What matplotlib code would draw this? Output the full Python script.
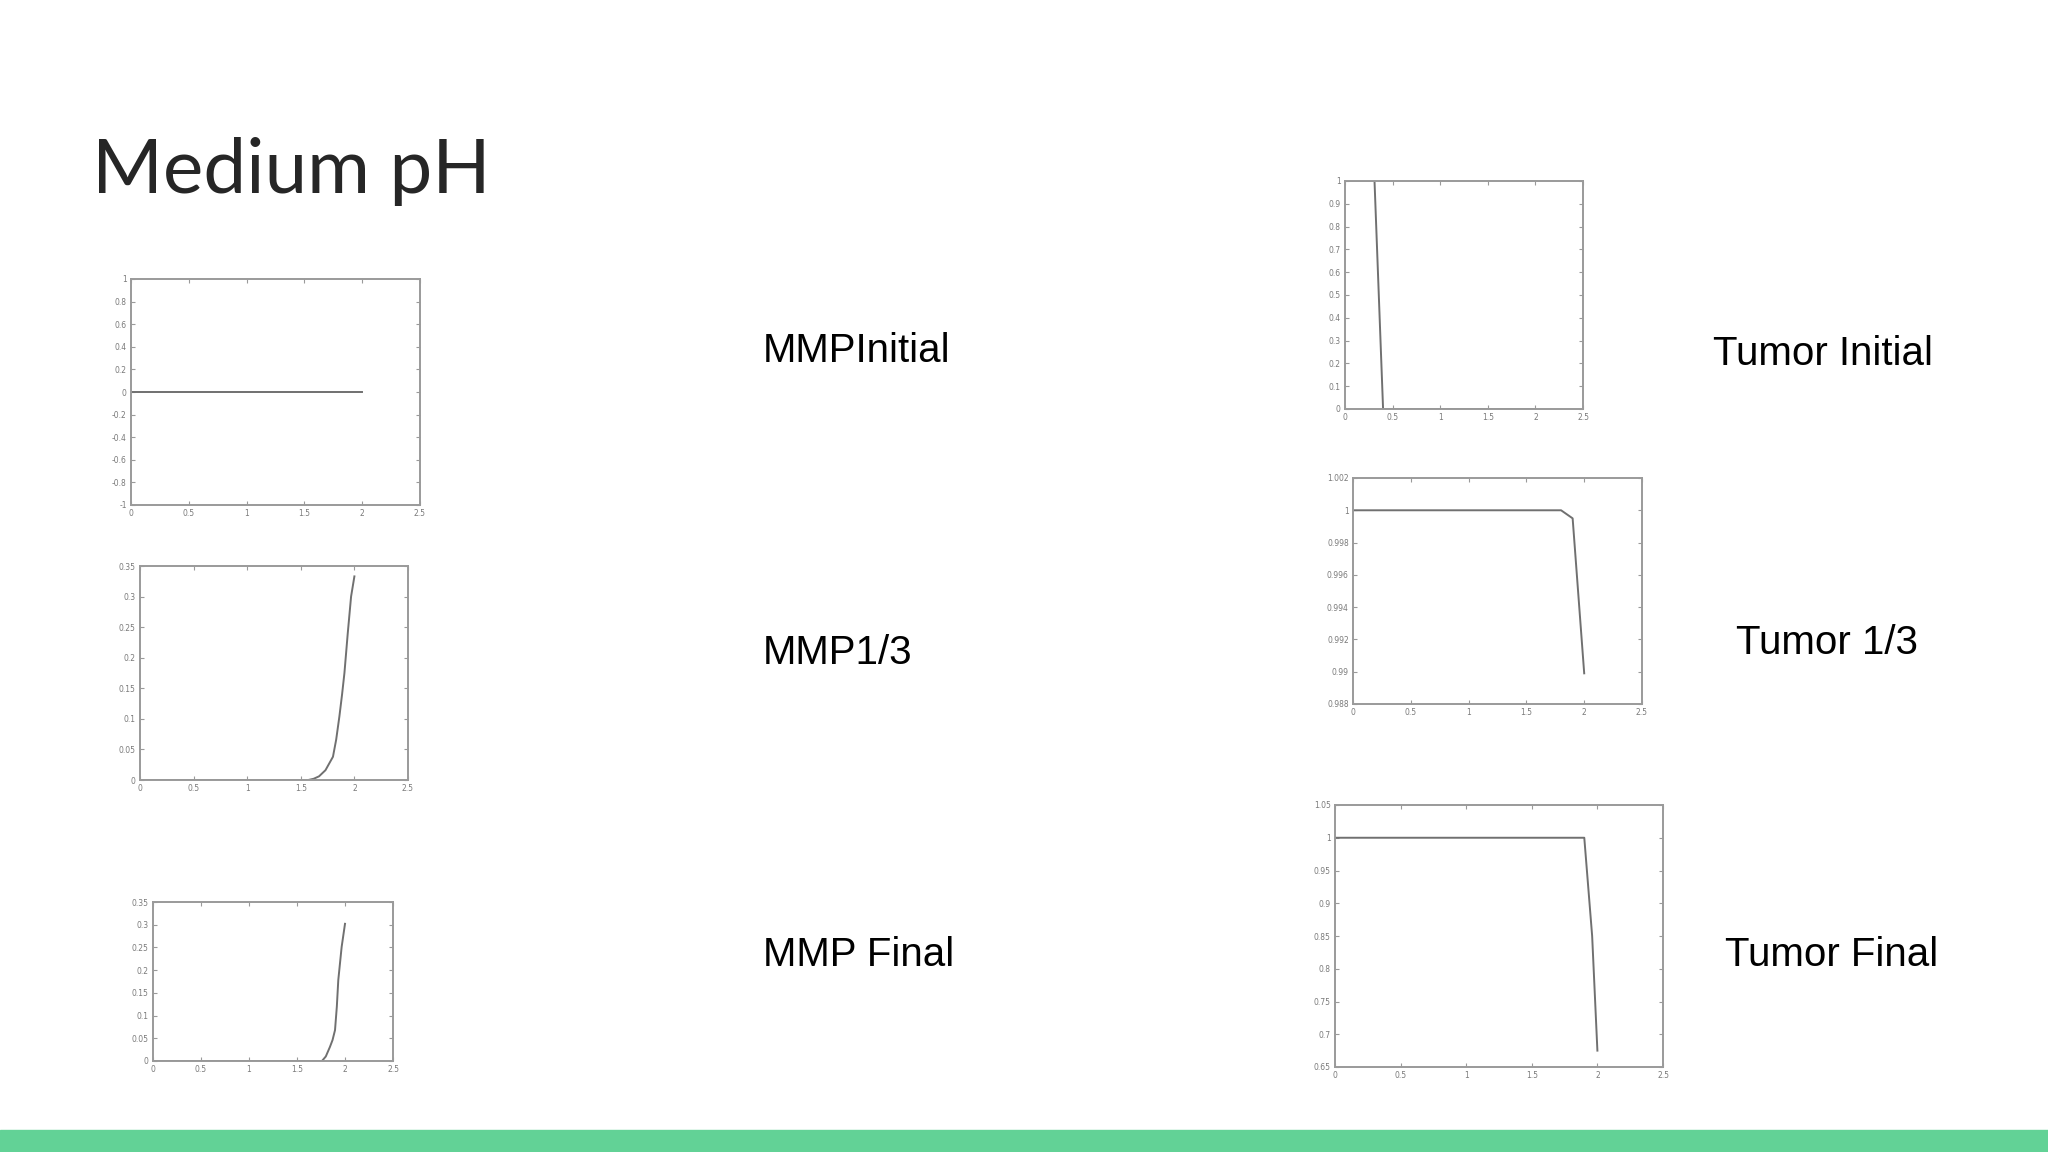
import matplotlib
matplotlib.use( 'Agg' )
import matplotlib.pyplot as plt
from matplotlib.ticker import FuncFormatter, MultipleLocator
from matplotlib.patches import Rectangle

# data
mmp_initial_x = [ 0, 2 ]
mmp_initial_y = [ 0, 0 ]

mmp_third_x = [ 0, 1.0, 1.57, 1.62, 1.67, 1.73, 1.80, 1.83, 1.86, 1.885, 1.907, 1.938, 1.969, 2.0 ]
mmp_third_y = [ 0, 0, 0, 0.002, 0.006, 0.016, 0.038, 0.066, 0.104, 0.140, 0.175, 0.24, 0.30, 0.333 ]

mmp_final_x = [ 0, 1.0, 1.76, 1.80, 1.843, 1.87, 1.896, 1.915, 1.93, 1.965, 2.0 ]
mmp_final_y = [ 0, 0, 0, 0.010, 0.031, 0.046, 0.068, 0.12, 0.178, 0.251, 0.302 ]

tumor_initial_x = [ 0, 0.31, 0.40, 2.0 ]
tumor_initial_y = [ 1, 1, 0, 0 ]

tumor_third_x = [ 0, 1.8, 1.9, 2.0 ]
tumor_third_y = [ 1, 1, 0.9995, 0.9899 ]

tumor_final_x = [ 0, 1.9, 1.92, 1.94, 1.96, 2.0 ]
tumor_final_y = [ 1, 1, 0.95, 0.90, 0.85, 0.675 ]

labels_left  = [ 'MMPInitial', 'MMP1/3', 'MMP Final' ]
labels_right = [ 'Tumor Initial', 'Tumor 1/3', 'Tumor Final' ]

# configure
W, H     = 2048, 1152
LINE     = '#707070'
SPINE    = '#9a9a9a'
TICKTEXT = '#7a7a7a'

# panel boxes in pixels: left, top, right, bottom; plus y limits and y step
panels = [
	( mmp_initial_x,   mmp_initial_y,   ( 131, 279, 420, 505 ),   ( -1, 1 ),         0.2 ),
	( mmp_third_x,     mmp_third_y,     ( 140, 566, 408, 780 ),   ( 0, 0.35 ),       0.05 ),
	( mmp_final_x,     mmp_final_y,     ( 153, 902, 393, 1061 ),  ( 0, 0.35 ),       0.05 ),
	( tumor_initial_x, tumor_initial_y, ( 1345, 181, 1583, 409 ), ( 0, 1 ),          0.1 ),
	( tumor_third_x,   tumor_third_y,   ( 1353, 478, 1642, 704 ), ( 0.988, 1.002 ),  0.002 ),
	( tumor_final_x,   tumor_final_y,   ( 1335, 805, 1663, 1067 ),( 0.65, 1.05 ),    0.05 ),
]

# tick text like the old plotting tool: 0, 0.5, 1 ...
short = FuncFormatter( lambda v, pos : '%g' % round( v, 6 ) )

# initialize
figure = plt.figure( figsize=( W / 100, H / 100 ), dpi=100 )
figure.patch.set_facecolor( 'white' )

# green band at the bottom
figure.patches.append( Rectangle( ( 0, 0 ), 1, 22 / H, transform=figure.transFigure, color='#62d296', zorder=0 ) )

# title
figure.text( 92 / W, 1 - 193 / H, 'Medium pH', fontsize=55, family='Lato', color='#262626', va='baseline', ha='left' )

# the six small plots
for x, y, box, ylim, ystep in panels :

	left, top, right, bottom = box
	axis = figure.add_axes( [ left / W, 1 - bottom / H, ( right - left ) / W, ( bottom - top ) / H ] )
	axis.plot( x, y, color=LINE, linewidth=1.4 )
	axis.set_xlim( 0, 2.5 )
	axis.set_ylim( *ylim )
	axis.xaxis.set_major_locator( MultipleLocator( 0.5 ) )
	axis.yaxis.set_major_locator( MultipleLocator( ystep ) )
	axis.xaxis.set_major_formatter( short )
	axis.yaxis.set_major_formatter( short )
	axis.tick_params( direction='in', length=3, width=0.8, colors=SPINE, labelcolor=TICKTEXT, labelsize=5.5,
		top=True, right=True, pad=3 )
	for spine in axis.spines.values() :
		spine.set_color( SPINE )
		spine.set_linewidth( 1.4 )

# labels beside the plots
for label, ( x, base ) in zip( labels_left, [ ( 763, 362 ), ( 763, 664 ), ( 763, 966 ) ] ) :
	figure.text( x / W, 1 - base / H, label, fontsize=29, family='Liberation Sans', color='black', va='baseline' )

for label, ( x, base ) in zip( labels_right, [ ( 1713, 365 ), ( 1736, 654 ), ( 1725, 966 ) ] ) :
	figure.text( x / W, 1 - base / H, label, fontsize=29, family='Liberation Sans', color='black', va='baseline' )

# save
plt.savefig( 'out.png', dpi=100, facecolor='white' )
